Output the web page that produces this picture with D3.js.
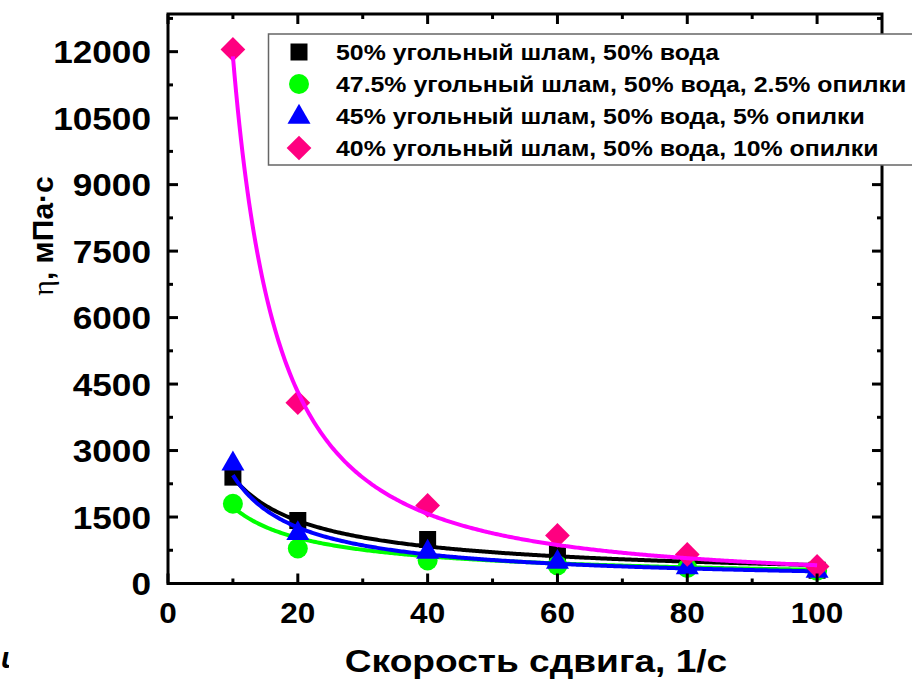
<!DOCTYPE html>
<html>
<head>
<meta charset="utf-8">
<script src="https://cdn.jsdelivr.net/npm/d3@7"></script>
<style>
  html, body { margin: 0; padding: 0; background: #fff; }
  svg { display: block; }
  text { font-family: "Liberation Sans", Arial, sans-serif; font-weight: bold; fill: #000; }
</style>
</head>
<body>
<svg id="chart" width="912" height="680"></svg>
<script>
// Shear rate, 1/s
const shearRate = [10, 20, 40, 60, 80, 100];

// Viscosity, mPa·s, one array per suspension
const seriesNames = [
  "50% угольный шлам, 50% вода",
  "47.5% угольный шлам, 50% вода, 2.5% опилки",
  "45% угольный шлам, 50% вода, 5% опилки",
  "40% угольный шлам, 50% вода, 10% опилки"
];
const viscCoal = [2400, 1420, 990, 690, 470, 300];
const viscSaw25 = [1800, 790, 520, 410, 350, 290];
const viscSaw5 = [2700, 1130, 710, 480, 360, 280];
const viscSaw10 = [12050, 4080, 1760, 1085, 655, 385];

// Power-law fit η = a·γ^b for each suspension
const fitA = [13800, 9685, 21800, 343000];
const fitB = [-0.76, -0.748, -0.95, -1.46];

const xTicks = [0, 20, 40, 60, 80, 100];
const yTicks = [0, 1500, 3000, 4500, 6000, 7500, 9000, 10500, 12000];

const symbolColors = ["#000000", "#00ff00", "#0000ff", "#ff0080"];
const lineColors = ["#000000", "#00ff00", "#0000ff", "#ff00ff"];
const symbolKinds = ["square", "circle", "triangle", "diamond"];

const series = [viscCoal, viscSaw25, viscSaw5, viscSaw10].map((vals, i) => ({
  name: seriesNames[i],
  points: shearRate.map((x, j) => ({ x, y: vals[j] })),
  a: fitA[i], b: fitB[i],
  color: symbolColors[i], line: lineColors[i], kind: symbolKinds[i]
}));

const svg = d3.select("#chart");
const plotLeft = 168, plotRight = 882, plotTop = 14, plotBottom = 583.5;

const x = d3.scaleLinear().domain([0, 110]).range([plotLeft, plotRight]);
const y = d3.scaleLinear().domain([0, 12850]).range([plotBottom, plotTop]);

function symbolPath(kind) {
  if (kind === "square") return d3.symbol(d3.symbolSquare, 17 * 17)();
  if (kind === "circle") return d3.symbol(d3.symbolCircle, Math.PI * 10 * 10)();
  if (kind === "triangle") return d3.symbol(d3.symbolTriangle, Math.sqrt(3) / 4 * 23 * 23)();
  return d3.symbol(d3.symbolSquare, 17.5 * 17.5)();
}
function symbolTransform(kind, px, py) {
  return kind === "diamond" ? `translate(${px},${py}) rotate(45)` : `translate(${px},${py})`;
}

// Plot clip
svg.append("clipPath").attr("id", "plotClip")
  .append("rect").attr("x", plotLeft).attr("y", plotTop)
  .attr("width", plotRight - plotLeft).attr("height", plotBottom - plotTop);

const plot = svg.append("g").attr("clip-path", "url(#plotClip)");

const line = d3.line().x(d => x(d.x)).y(d => y(d.y)).curve(d3.curveLinear);
const fitX = d3.range(10, 100.001, 0.25);

series.forEach(s => {
  plot.append("g").selectAll("path")
    .data(s.points)
    .join("path")
    .attr("d", symbolPath(s.kind))
    .attr("transform", d => symbolTransform(s.kind, x(d.x), y(d.y)))
    .attr("fill", s.color);
  plot.append("path")
    .datum(fitX.map(v => ({ x: v, y: s.a * Math.pow(v, s.b) })))
    .attr("d", line)
    .attr("fill", "none")
    .attr("stroke", s.line)
    .attr("stroke-width", 4)
    .attr("stroke-linejoin", "round");
});

// Axes: ticks pointing inward on all four sides
const majorLen = 10, minorLen = 5;
const xMinor = d3.range(10, 110, 20);
const yMinor = d3.range(750, 12850, 1500);
const axes = svg.append("g").attr("stroke", "#000").attr("stroke-width", 3);

function xTickMarks(vals, len) {
  vals.forEach(v => {
    axes.append("line").attr("x1", x(v)).attr("x2", x(v)).attr("y1", plotBottom).attr("y2", plotBottom - len);
    axes.append("line").attr("x1", x(v)).attr("x2", x(v)).attr("y1", plotTop).attr("y2", plotTop + len);
  });
}
function yTickMarks(vals, len) {
  vals.forEach(v => {
    axes.append("line").attr("y1", y(v)).attr("y2", y(v)).attr("x1", plotLeft).attr("x2", plotLeft + len);
    axes.append("line").attr("y1", y(v)).attr("y2", y(v)).attr("x1", plotRight).attr("x2", plotRight - len);
  });
}
xTickMarks(xTicks, majorLen);
xTickMarks(xMinor, minorLen);
yTickMarks(yTicks, majorLen);
yTickMarks(yMinor, minorLen);

axes.append("rect")
  .attr("x", plotLeft).attr("y", plotTop)
  .attr("width", plotRight - plotLeft).attr("height", plotBottom - plotTop)
  .attr("fill", "none");

// Text drawn slightly wide, as in the figure's typeface
function wideText(parent, px, py, sx) {
  return parent.append("text")
    .attr("transform", `translate(${px},${py}) scale(${sx},1)`);
}

// Tick labels
svg.append("g").selectAll("text")
  .data(xTicks)
  .join("text")
  .attr("transform", d => `translate(${x(d)},623) scale(1.05,1)`)
  .attr("text-anchor", "middle")
  .style("font-size", "30px")
  .text(d => d);

svg.append("g").selectAll("text")
  .data(yTicks)
  .join("text")
  .attr("transform", d => `translate(151,${y(d)}) scale(1.1,1)`)
  .attr("dy", "0.36em")
  .attr("text-anchor", "end")
  .style("font-size", "32px")
  .text(d => d);

// Axis titles
wideText(svg, 536, 672, 1.16)
  .attr("text-anchor", "middle")
  .style("font-size", "32px")
  .text("Скорость сдвига, 1/с");

const yTitle = svg.append("text")
  .attr("transform", "translate(53,236) rotate(-90)")
  .attr("text-anchor", "middle")
  .style("font-size", "30px");
yTitle.append("tspan")
  .style("font-family", "'Liberation Serif', 'DejaVu Serif', serif")
  .style("font-weight", "normal")
  .text("η");
yTitle.append("tspan").text(", мПа·с");

// Legend
const legend = svg.append("g");
legend.append("rect")
  .attr("x", 268.5).attr("y", 34)
  .attr("width", 700).attr("height", 131)
  .attr("fill", "#fff")
  .attr("stroke", "#666")
  .attr("stroke-width", 1.5);
const rowY = [52, 84, 116, 148];
series.forEach((s, i) => {
  const cy = s.kind === "triangle" ? rowY[i] + 1 : rowY[i];
  legend.append("path")
    .attr("d", symbolPath(s.kind))
    .attr("transform", symbolTransform(s.kind, 299, cy))
    .attr("fill", s.color);
  wideText(legend, 336, rowY[i], 1.13)
    .attr("dy", "0.36em")
    .style("font-size", "22px")
    .text(s.name);
});

// Panel letter at the lower-left edge
svg.append("clipPath").attr("id", "letterClip")
  .append("rect").attr("x", 0).attr("y", 600).attr("width", 9).attr("height", 80);
svg.append("text")
  .attr("clip-path", "url(#letterClip)")
  .attr("x", 1)
  .attr("y", 668)
  .style("font-size", "30px")
  .style("font-style", "italic")
  .text("u");
</script>
</body>
</html>
